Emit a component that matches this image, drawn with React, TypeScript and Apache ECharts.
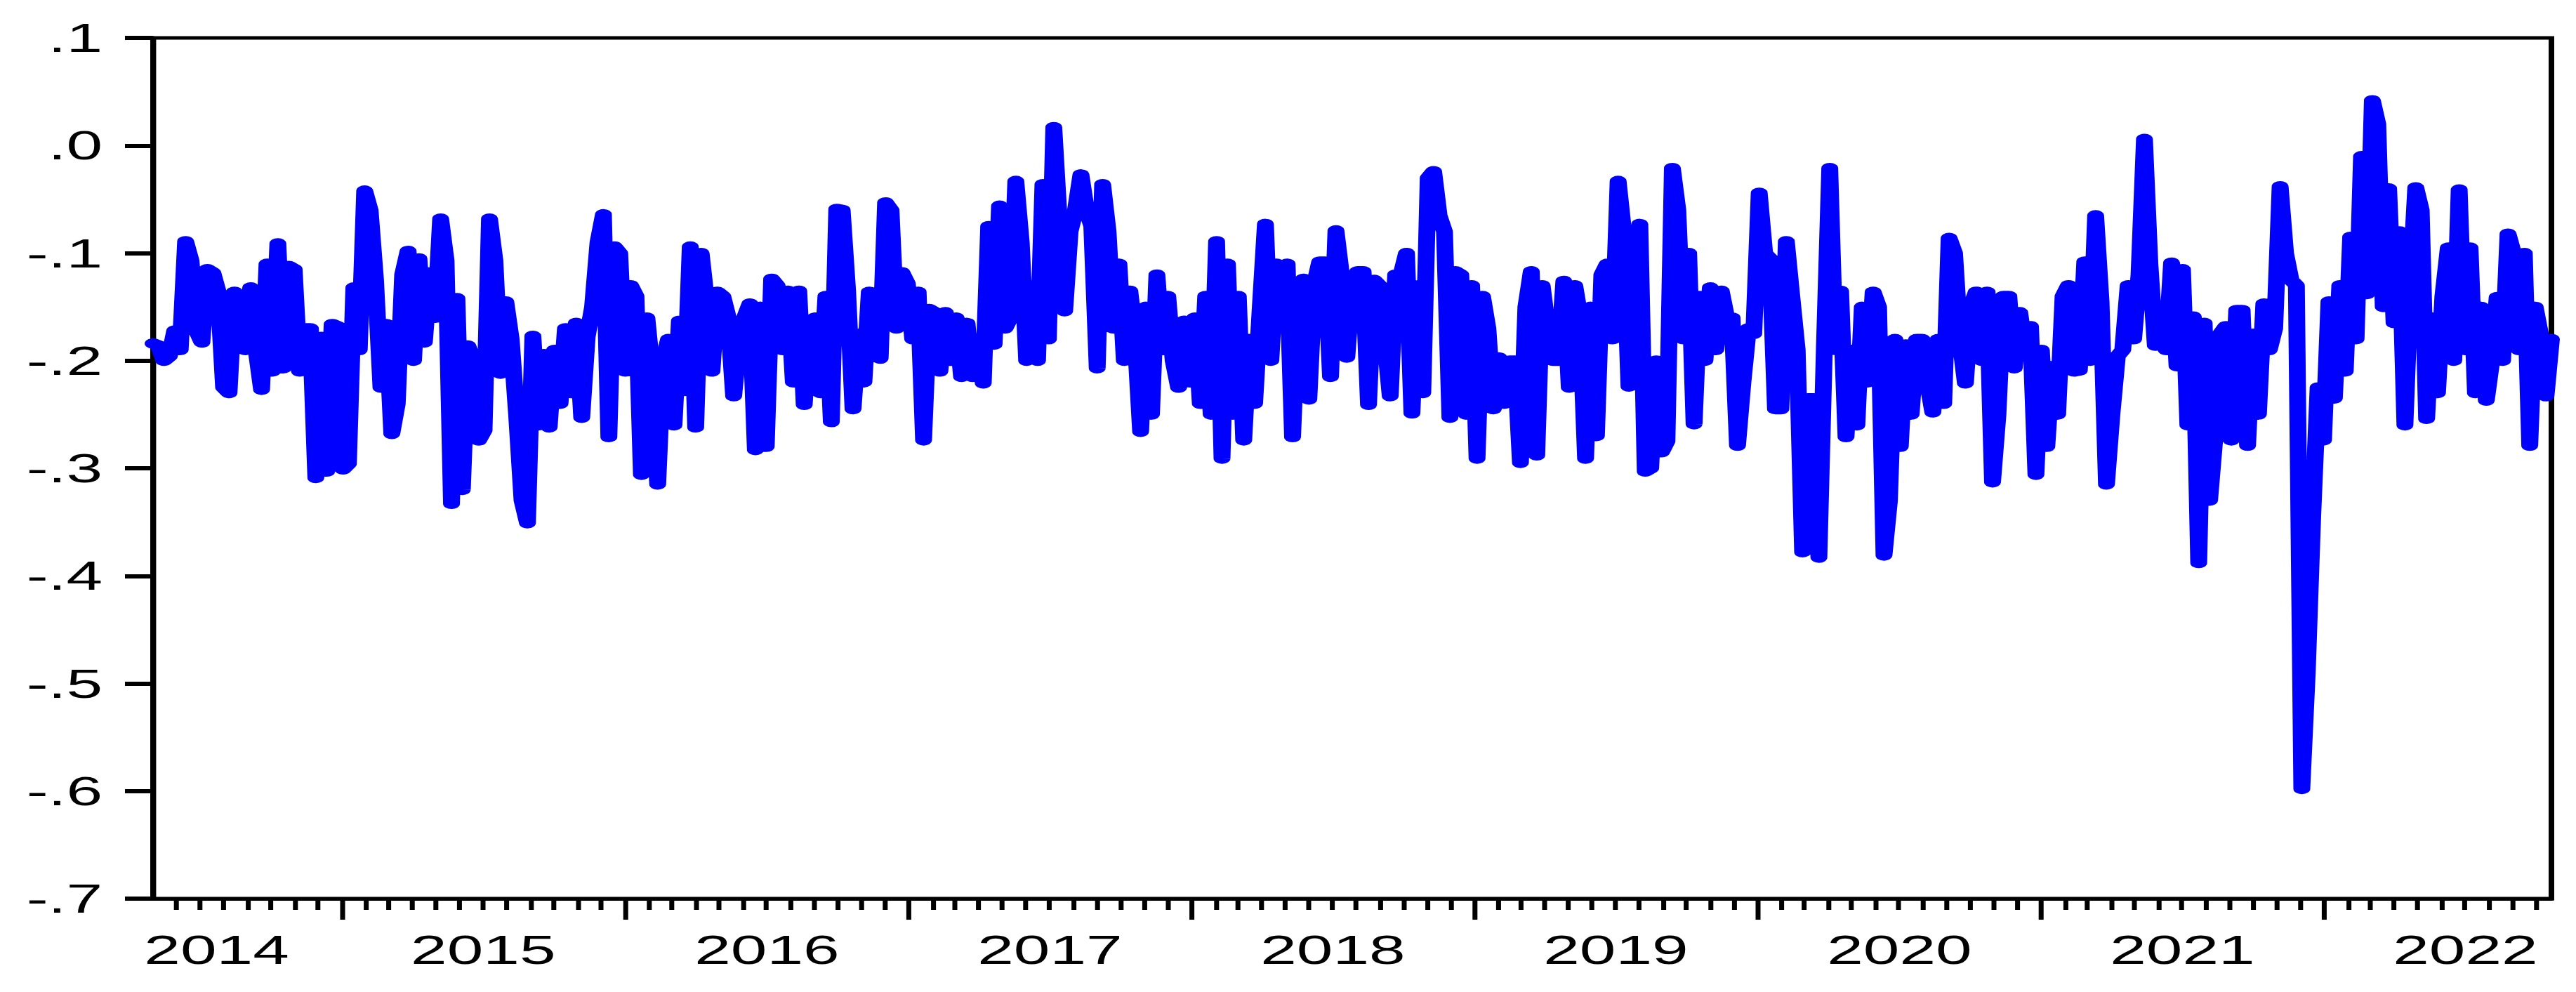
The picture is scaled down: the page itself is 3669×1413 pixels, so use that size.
import React, { useEffect, useRef } from "react";
import * as echarts from "echarts";

// Weekly observations, first week 2014-05-02
const START_DATE = Date.UTC(2014, 4, 2);
const WEEK_MS = 7 * 86400000;

const values2014_2015 = [
  -0.184, -0.186, -0.200, -0.196, -0.172, -0.190, -0.089, -0.107, -0.172, -0.183,
  -0.115, -0.118, -0.136, -0.225, -0.230, -0.136, -0.160, -0.190, -0.132, -0.190,
  -0.227, -0.110, -0.210, -0.091, -0.207, -0.112, -0.115, -0.210, -0.170, -0.170,
  -0.309, -0.178, -0.303, -0.166, -0.168, -0.301, -0.296, -0.132, -0.190, -0.042,
  -0.060, -0.125, -0.225, -0.166, -0.268, -0.240, -0.120, -0.098, -0.200, -0.105,
  -0.183, -0.118, -0.160, -0.068, -0.107, -0.333, -0.142, -0.320, -0.186, -0.200,
  -0.274, -0.265, -0.068, -0.107, -0.212, -0.145, -0.180, -0.250, -0.330, -0.351,
  -0.177, -0.260, -0.194, -0.262,
];

const values2015_2017 = [
  -0.190, -0.240, -0.170, -0.230, -0.165, -0.253, -0.178, -0.150, -0.090, -0.064,
  -0.271, -0.094, -0.100, -0.210, -0.130, -0.140, -0.306, -0.160, -0.210, -0.315,
  -0.200, -0.180, -0.260, -0.163, -0.228, -0.094, -0.262, -0.100, -0.145, -0.210,
  -0.136, -0.140, -0.160, -0.233, -0.180, -0.160, -0.147, -0.283, -0.150, -0.280,
  -0.124, -0.130, -0.190, -0.135, -0.220, -0.135, -0.241, -0.165, -0.160, -0.230,
  -0.140, -0.257, -0.059, -0.060, -0.135, -0.245, -0.175, -0.220, -0.136, -0.140,
  -0.198, -0.053, -0.060, -0.170, -0.118, -0.128, -0.180, -0.136, -0.274, -0.152,
  -0.155, -0.210, -0.155,
];

const values2017_2018 = [
  -0.200, -0.160, -0.215, -0.165, -0.215, -0.190, -0.221, -0.075, -0.185, -0.056,
  -0.170, -0.160, -0.033, -0.090, -0.200, -0.130, -0.200, -0.036, -0.180, 0.017,
  -0.070, -0.154, -0.080, -0.060, -0.027, -0.060, -0.075, -0.207, -0.036, -0.080,
  -0.170, -0.110, -0.200, -0.135, -0.178, -0.266, -0.150, -0.250, -0.120, -0.190,
  -0.140, -0.200, -0.225, -0.163, -0.220, -0.160, -0.240, -0.140, -0.250, -0.089,
  -0.291, -0.110, -0.250, -0.140, -0.274, -0.180, -0.240, -0.155, -0.073, -0.200,
  -0.110, -0.170, -0.110, -0.271, -0.150, -0.124, -0.236, -0.130, -0.108, -0.108,
  -0.215,
];

const values2018_2020 = [
  -0.079, -0.120, -0.197, -0.130, -0.117, -0.117, -0.241, -0.125, -0.130, -0.180,
  -0.233, -0.120, -0.120, -0.100, -0.249, -0.130, -0.230, -0.030, -0.024, -0.065,
  -0.080, -0.253, -0.117, -0.120, -0.250, -0.130, -0.291, -0.140, -0.170, -0.245,
  -0.197, -0.240, -0.200, -0.200, -0.295, -0.150, -0.117, -0.288, -0.130, -0.170,
  -0.200, -0.200, -0.126, -0.225, -0.130, -0.160, -0.291, -0.150, -0.270, -0.120,
  -0.110, -0.180, -0.033, -0.080, -0.224, -0.140, -0.073, -0.303, -0.300, -0.200,
  -0.285, -0.275, -0.021, -0.060, -0.180, -0.100, -0.259, -0.140, -0.200, -0.132,
  -0.190, -0.135, -0.160,
];

const values2020_2021 = [
  -0.160, -0.279, -0.220, -0.170, -0.175, -0.044, -0.100, -0.105, -0.245, -0.245,
  -0.089, -0.140, -0.190, -0.378, -0.235, -0.235, -0.383, -0.190, -0.021, -0.190,
  -0.135, -0.271, -0.190, -0.260, -0.150, -0.220, -0.136, -0.150, -0.381, -0.330,
  -0.180, -0.280, -0.185, -0.250, -0.180, -0.180, -0.220, -0.248, -0.180, -0.240,
  -0.086, -0.100, -0.180, -0.221, -0.150, -0.136, -0.200, -0.136, -0.313, -0.250,
  -0.140, -0.140, -0.207, -0.155, -0.190, -0.168, -0.306, -0.190, -0.280, -0.205,
  -0.250, -0.140, -0.130, -0.210, -0.209, -0.108, -0.200, -0.065, -0.145, -0.315,
  -0.250, -0.196,
];

const values2021_2022 = [
  -0.190, -0.130, -0.180, -0.120, 0.006, -0.110, -0.186, -0.155, -0.190, -0.109,
  -0.205, -0.115, -0.260, -0.159, -0.388, -0.165, -0.330, -0.270, -0.175, -0.168,
  -0.274, -0.153, -0.153, -0.279, -0.175, -0.250, -0.147, -0.190, -0.170, -0.038,
  -0.100, -0.125, -0.130, -0.598, -0.490, -0.345, -0.225, -0.274, -0.145, -0.235,
  -0.130, -0.210, -0.085, -0.180, -0.010, -0.138, 0.042, 0.020, -0.150, -0.040,
  -0.165, -0.080, -0.260, -0.130, -0.039, -0.060, -0.254, -0.160, -0.230, -0.140,
  -0.095, -0.200, -0.041, -0.190, -0.095, -0.230, -0.150, -0.237, -0.200, -0.141,
  -0.200, -0.082, -0.100, -0.190, -0.100, -0.279, -0.150, -0.176, -0.233, -0.180,
];

const yTickLabels = [".1", ".0", "-.1", "-.2", "-.3", "-.4", "-.5", "-.6", "-.7"];
const yearLabels = ["2014", "2015", "2016", "2017", "2018", "2019", "2020", "2021", "2022"];

const STRETCH = 1.6;
const W = 3669;
const H = 1413;
const INNER_W = W / STRETCH;
const FONT = "Arial, 'Liberation Sans', Helvetica, sans-serif";

export default function App() {
  const ref = useRef<HTMLDivElement>(null);

  useEffect(() => {
    if (!ref.current) return;
    document.body.style.overflow = "hidden";
    const chart = echarts.init(ref.current, null, {
      renderer: "svg",
      width: INNER_W,
      height: H,
    });

    const values = [
      ...values2014_2015,
      ...values2015_2017,
      ...values2017_2018,
      ...values2018_2020,
      ...values2020_2021,
      ...values2021_2022,
    ];
    const data = values.map((v, i) => [START_DATE + i * WEEK_MS, v]);
    const xMin = START_DATE;
    const xMax = START_DATE + (values.length - 1) * WEEK_MS;

    const monthTicks: number[] = [];
    for (let y = 2014; y <= 2022; y++) {
      for (let m = 1; m < 12; m++) {
        const t = Date.UTC(y, m, 1);
        if (t > xMin && t < xMax) monthTicks.push(t);
      }
    }
    const yearTicks: number[] = [];
    for (let y = 2015; y <= 2022; y++) yearTicks.push(Date.UTC(y, 0, 1));
    const yearLabelPos = yearLabels.map((s) =>
      s === "2014" ? Date.UTC(2014, 6, 23) : Date.UTC(Number(s), 6, 2)
    );

    chart.setOption({
      animation: false,
      backgroundColor: "#ffffff",
      grid: {
        left: 218 / STRETCH,
        right: (W - 3634) / STRETCH,
        top: 54,
        bottom: 133,
        show: true,
        borderColor: "#000",
        borderWidth: 5,
        backgroundColor: "transparent",
      },
      xAxis: [
        {
          type: "value",
          min: xMin,
          max: xMax,
          position: "bottom",
          axisLine: { show: true, onZero: false, lineStyle: { color: "#000", width: 5 } },
          axisTick: {
            show: true,
            inside: false,
            length: 16,
            customValues: monthTicks,
            lineStyle: { color: "#000", width: 4.4 },
          },
          axisLabel: { show: false },
          splitLine: { show: false },
        },
        {
          type: "value",
          min: xMin,
          max: xMax,
          position: "bottom",
          axisLine: { show: false, onZero: false },
          axisTick: {
            show: true,
            inside: false,
            length: 30,
            customValues: yearTicks,
            lineStyle: { color: "#000", width: 4.4 },
          },
          axisLabel: {
            show: true,
            customValues: yearLabelPos,
            formatter: (v: number) => String(new Date(v).getUTCFullYear()),
            fontSize: 58,
            fontFamily: FONT,
            color: "#000",
            margin: 44,
          },
          splitLine: { show: false },
        },
      ],
      yAxis: {
        type: "value",
        min: -0.7,
        max: 0.1,
        interval: 0.1,
        axisLine: { show: true, onZero: false, lineStyle: { color: "#000", width: 5 } },
        axisTick: {
          show: true,
          inside: false,
          length: 25,
          lineStyle: { color: "#000", width: 6 },
        },
        axisLabel: {
          formatter: (v: number) => yTickLabels[Math.round((0.1 - v) * 10)] ?? "",
          fontSize: 58,
          fontFamily: FONT,
          color: "#000",
          margin: 45,
          padding: [0, 0, 24, 0],
        },
        splitLine: { show: false },
      },
      series: [
        {
          type: "line",
          xAxisIndex: 0,
          yAxisIndex: 0,
          data,
          showSymbol: false,
          symbol: "none",
          silent: true,
          clip: true,
          lineStyle: { color: "#0000FF", width: 15, cap: "round", join: "round" },
        },
      ],
    });

    return () => {
      chart.dispose();
    };
  }, []);

  return (
    <div
      ref={ref}
      style={{
        position: "absolute",
        left: 0,
        top: 0,
        width: INNER_W,
        height: H,
        transform: `scaleX(${STRETCH})`,
        transformOrigin: "0 0",
        background: "#fff",
      }}
    />
  );
}
